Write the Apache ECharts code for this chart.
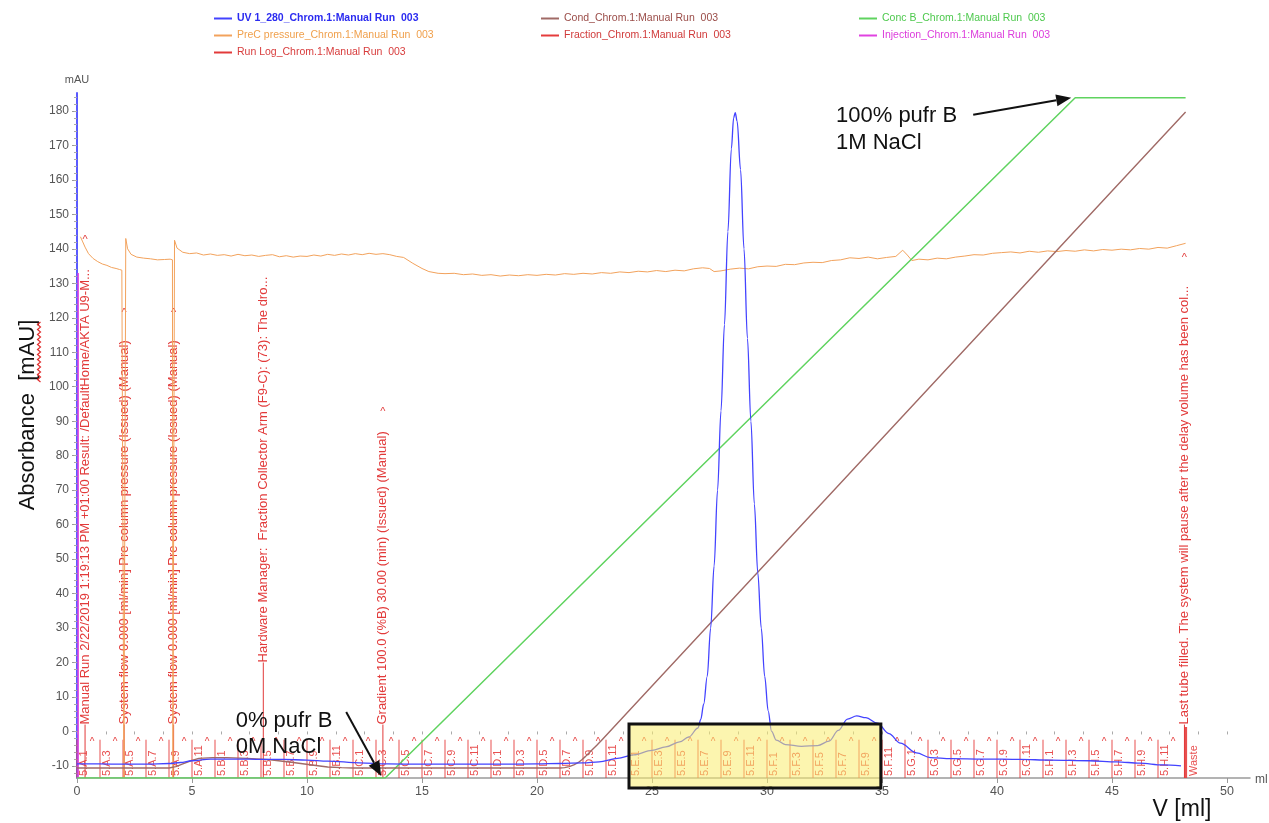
<!DOCTYPE html>
<html>
<head>
<meta charset="utf-8">
<title>Manual Run 003 – chromatogram</title>
<script src="https://cdn.jsdelivr.net/npm/echarts@6/dist/echarts.min.js"></script>
<style>
  html, body { margin: 0; padding: 0; background: #ffffff; }
  #chart { width: 1269px; height: 823px; }
</style>
</head>
<body>
<div id="chart"></div>
<script>
// ---------------- data ----------------
// UV 280 nm absorbance (mAU) against eluted volume (ml)
const uvVolume = [0,1,2,3,4,4.5,5,5.8,7,8,9,10,10.9,12.3,13.5,15,18,20,21,22,22.7,23.5,24.2,25,25.6,26.2,26.6,27,27.12,27.25,27.4,27.55,27.7,27.85,28,28.15,28.3,28.45,28.55,28.62,28.7,28.85,29,29.15,29.3,29.45,29.6,29.75,29.9,30.05,30.2,30.4,30.8,31.5,32.2,32.7,33.1,33.5,33.9,34.3,34.8,35.3,35.8,36.5,37.1,38,39.4,41,42.3,44,45.2,46.2,47.2,48];
const uvAbsorbance = [-9.4,-9.4,-9.5,-9.5,-9.3,-9,-8.5,-8,-8,-8.1,-8.1,-8.3,-8.6,-9.1,-9.4,-9.5,-9.5,-9.4,-9.3,-9.1,-8.8,-7.8,-6.8,-5.5,-4.5,-3,-1.6,1,3.5,8,16,30,48,70,93,118,145,169,178,179.5,177,163,140,114,90,66,46,30,16,6,0,-2.5,-3.8,-4.3,-4.1,-2.8,0.3,3.6,4.5,4,2.4,-0.6,-3.4,-6.2,-7.6,-7.9,-8,-8.1,-8.3,-8.5,-8.8,-9.2,-9.7,-10];

// Conductivity trace, drawn on the absorbance scale
const condVolume = [0,4,4.3,4.6,4.95,5.3,5.9,6.5,7.4,8.4,9.4,10.3,10.9,11.5,12,21,21.2,21.4,21.6,21.8,21.95,22.1,22.25,22.4,22.6,22.8,25,30,35,40,45,48.2];
const condValue = [-10.6,-10.6,-10.2,-9.4,-8.5,-7.8,-7.6,-7.6,-7.8,-8.2,-9,-9.8,-10.3,-10.5,-10.6,-10.6,-10.5,-10.2,-9.7,-9,-8.2,-7.3,-6.3,-5.3,-4,-2.6,13.2,49.1,85,120.9,156.8,179.7];

// Buffer B concentration (%)
const concVolume = [0, 13.4, 43.4, 48.2];
const concPercent = [0, 0, 100, 100];

// Pre-column pressure trace, drawn on the absorbance scale
const presVolume = [0.15,0.25,0.35,0.5,0.7,0.9,1.1,1.3,1.5,1.7,1.85,1.95,2.02,2.04,2.1,2.12,2.2,2.35,2.6,2.9,3.2,3.5,3.8,4.05,4.15,4.17,4.22,4.24,4.35,4.6,4.9,5.2,5.5,5.8,6.1,6.4,6.7,7.0,7.3,7.6,7.9,8.2,8.5,8.8,9.1,9.4,9.7,10.0,10.3,10.6,10.9,11.2,11.5,11.8,12.1,12.4,12.7,13.0,13.3,13.6,13.9,14.2,14.6,15.0,15.3,15.7,16.0,16.4,16.8,17.2,17.6,18.0,18.4,18.8,19.2,19.6,20.0,20.4,20.8,21.2,21.6,22.0,22.4,22.8,23.2,23.6,24.0,24.4,24.8,25.2,25.6,26.0,26.4,26.8,27.2,27.5,27.7,28.0,28.4,28.8,29.2,29.6,30.0,30.4,30.8,31.2,31.6,32.0,32.4,32.8,33.2,33.6,34.0,34.4,34.8,35.2,35.6,35.9,36.1,36.3,36.6,37.0,37.4,37.8,38.2,38.6,39.0,39.4,39.8,40.2,40.6,41.0,41.4,41.8,42.2,42.6,43.0,43.4,43.8,44.2,44.6,45.0,45.4,45.8,46.2,46.6,47.0,47.4,47.8,48.2];
const presValue = [143.5,142,140.5,138.6,137.2,136.3,135.6,135.2,134.6,134.3,134.0,133.8,133.5,-13.5,-13.5,143,140,138.4,137.6,137.3,137.1,136.8,136.9,137.0,136.8,-13.5,-13.5,142.5,140.2,139,138.6,138.8,138.2,138.5,138.1,138.3,137.9,138.4,138.0,138.2,137.8,138.1,138.3,137.7,138.0,137.6,137.9,137.8,138.2,137.9,138.4,138.1,138.5,138.2,138.6,138.3,138.7,138.4,138.6,138.3,137.8,137.5,135.8,134.3,133.4,132.9,132.8,132.9,132.5,132.7,132.3,132.5,132.1,132.4,132.2,132.5,132.3,132.6,132.4,132.8,132.6,132.9,132.7,133.1,132.9,133.3,133.1,133.5,133.3,133.7,133.4,133.8,133.6,134.2,134.5,134.3,133.4,133.6,134.1,134.4,134.2,134.8,135.0,134.9,135.5,135.4,135.9,136.1,136.0,136.6,136.8,137.4,137.2,137.6,137.1,137.5,137.8,139.6,138.2,136.6,137.0,136.8,137.3,137.1,137.6,137.9,138.3,138.2,138.7,138.9,139.1,138.8,139.3,139.0,139.4,139.2,139.5,139.3,139.7,139.4,139.8,139.6,139.9,139.7,140.1,139.9,140.4,140.2,140.9,141.6];

// Fraction collector: start volume of each tube and its well name
const fractionVolume = [0,1,2,3,4,5,6,7,8,9,10,11,12,13,14,15,16,17,18,19,20,21,22,23,24,25,26,27,28,29,30,31,32,33,34,35,36,37,38,39,40,41,42,43,44,45,46,47,48.2];
const fractionLabel = ['5.A.1','5.A.3','5.A.5','5.A.7','5.A.9','5.A.11','5.B.1','5.B.3','5.B.5','5.B.7','5.B.9','5.B.11','5.C.1','5.C.3','5.C.5','5.C.7','5.C.9','5.C.11','5.D.1','5.D.3','5.D.5','5.D.7','5.D.9','5.D.11','5.E.1','5.E.3','5.E.5','5.E.7','5.E.9','5.E.11','5.F.1','5.F.3','5.F.5','5.F.7','5.F.9','5.F.11','5.G.1','5.G.3','5.G.5','5.G.7','5.G.9','5.G.11','5.H.1','5.H.3','5.H.5','5.H.7','5.H.9','5.H.11','Waste'];

// Run log events
const runLogVolume = [0.35, 2.05, 4.2, 8.1, 13.3, 48.15];
const runLogText = [
  'Manual Run 2/22/2019 1:19:13 PM +01:00 Result: /DefaultHome/AKTA U9-M...',
  'System flow 0.000 [ml/min] Pre column pressure (Issued) (Manual)',
  'System flow 0.000 [ml/min] Pre column pressure (Issued) (Manual)',
  'Hardware Manager:  Fraction Collector Arm (F9-C): (73): The dro...',
  'Gradient 100.0 (%B) 30.00 (min) (Issued) (Manual)',
  'Last tube filled. The system will pause after the delay volume has been col...'
];

// Injection mark
const injectionVolume = [0.05];

// Axis tick labels
const xTickLabels = [0, 5, 10, 15, 20, 25, 30, 35, 40, 45, 50];
const yTickLabels = [-10, 0, 10, 20, 30, 40, 50, 60, 70, 80, 90, 100, 110, 120, 130, 140, 150, 160, 170, 180];

// ---------------- presentation ----------------
const FONT = '"Liberation Sans", Arial, Helvetica, sans-serif';
const Y_MIN = -13.5, Y_MAX = 185.2, X_MIN = 0, X_MAX = 51;
const CONC_MAX = 100.7;

const COLORS = {
  uv: '#4343ff', cond: '#a06a66', conc: '#5fd35f', pres: '#f2a25c',
  fraction: '#e53c3c', runlog: '#e23a3a', injection: '#e043e0'
};

const NAMES = {
  uv: 'UV 1_280_Chrom.1:Manual Run  003',
  cond: 'Cond_Chrom.1:Manual Run  003',
  conc: 'Conc B_Chrom.1:Manual Run  003',
  pres: 'PreC pressure_Chrom.1:Manual Run  003',
  fraction: 'Fraction_Chrom.1:Manual Run  003',
  injection: 'Injection_Chrom.1:Manual Run  003',
  runlog: 'Run Log_Chrom.1:Manual Run  003'
};

// where each run-log text starts and where its caret sits (absorbance units)
const runLogTextFrom = [2, 2, 2, 20, 2, 2];
const runLogCaretAt = [142.6, 121.4, 121.4, null, 92.7, 137.4];

const zip = (xs, ys) => xs.map((x, i) => [x, ys[i]]);

function ticksBetween(lo, hi, step) {
  const out = [];
  for (let v = lo; v <= hi + 1e-9; v += step) out.push(+v.toFixed(4));
  return out;
}

function renderFraction(params, api) {
  const i = params.dataIndex;
  const x = api.value(0);
  const label = fractionLabel[i];
  const waste = label === 'Waste';
  const base = api.coord([x, Y_MIN]);
  const top = api.coord([x, waste ? 1.3 : -2.4]);
  const children = [
    { type: 'line', shape: { x1: base[0], y1: base[1], x2: top[0], y2: top[1] },
      style: { stroke: COLORS.fraction, lineWidth: waste ? 3 : 1, opacity: 0.9 } },
    { type: 'text', x: base[0] + (waste ? 8 : 7), y: base[1] - 2, rotation: Math.PI / 2,
      style: { text: label, fill: COLORS.fraction, fontSize: 11, fontFamily: FONT,
               align: 'left', verticalAlign: 'middle', opacity: 0.9 } }
  ];
  if (!waste) {
    children.push({ type: 'text', x: top[0] + 15, y: top[1] + 3,
      style: { text: '^', fill: COLORS.fraction, fontSize: 10, fontFamily: FONT,
               align: 'center', verticalAlign: 'middle' } });
  }
  return { type: 'group', children };
}

function renderRunLog(params, api) {
  const i = params.dataIndex;
  const x = api.value(0);
  const base = api.coord([x, Y_MIN]);
  const from = api.coord([x, runLogTextFrom[i]]);
  const children = [
    { type: 'line', shape: { x1: base[0], y1: base[1], x2: from[0], y2: from[1] },
      style: { stroke: COLORS.runlog, lineWidth: 1 } },
    { type: 'text', x: from[0], y: from[1], rotation: Math.PI / 2,
      style: { text: runLogText[i], fill: COLORS.runlog, fontSize: 13, fontFamily: FONT,
               align: 'left', verticalAlign: 'middle' } }
  ];
  if (runLogCaretAt[i] !== null) {
    const c = api.coord([x, runLogCaretAt[i]]);
    children.push({ type: 'text', x: c[0], y: c[1],
      style: { text: '^', fill: COLORS.runlog, fontSize: 11, fontFamily: FONT,
               align: 'center', verticalAlign: 'middle' } });
  }
  return { type: 'group', children };
}

function renderInjection(params, api) {
  const x = api.value(0);
  const a = api.coord([x, Y_MIN]);
  const b = api.coord([x, 133]);
  return { type: 'line', shape: { x1: a[0], y1: a[1], x2: b[0], y2: b[1] },
           style: { stroke: COLORS.injection, lineWidth: 1.5 } };
}

const legendText = (name, color, bold) => ({ name, textStyle: { color, fontWeight: bold ? 'bold' : 'normal' } });
const legendBase = {
  orient: 'vertical', top: 13, itemGap: 6, itemWidth: 18, itemHeight: 2, icon: 'rect',
  selectedMode: false, padding: 0,
  textStyle: { fontSize: 10.5, fontFamily: FONT }
};

const chart = echarts.init(document.getElementById('chart'), null, { renderer: 'canvas' });

const axisLabelStyle = { color: '#555', fontSize: 12, fontFamily: FONT };

chart.setOption({
  animation: false,
  backgroundColor: '#ffffff',
  grid: { left: 77, right: 19, top: 93, bottom: 45, containLabel: false, outerBoundsMode: 'none' },
  legend: [
    Object.assign({}, legendBase, { left: 214, data: [
      legendText(NAMES.uv, '#2b2bf0', true),
      legendText(NAMES.pres, '#f0a04c'),
      legendText(NAMES.runlog, '#d83c3c') ] }),
    Object.assign({}, legendBase, { left: 541, data: [
      legendText(NAMES.cond, '#9a4c48'),
      legendText(NAMES.fraction, '#d03a3a') ] }),
    Object.assign({}, legendBase, { left: 859, data: [
      legendText(NAMES.conc, '#4ec94e'),
      legendText(NAMES.injection, '#dc3cdc') ] })
  ],
  xAxis: [
    {
      type: 'value', min: X_MIN, max: X_MAX,
      name: 'ml', nameLocation: 'end', nameGap: 5,
      nameTextStyle: { color: '#555', fontSize: 12, fontFamily: FONT, verticalAlign: 'top', padding: [-4, 0, 0, 0] },
      axisLine: { show: true, onZero: false, lineStyle: { color: '#9a9a9a', width: 1.5 } },
      axisTick: { show: true, length: 5, customValues: xTickLabels, lineStyle: { color: '#999' } },
      axisLabel: { customValues: xTickLabels, margin: 7, ...axisLabelStyle, fontSize: 12.5 },
      splitLine: { show: false }
    },
    {
      type: 'value', min: X_MIN, max: X_MAX, position: 'bottom',
      axisLine: { show: false }, axisLabel: { show: false }, splitLine: { show: false },
      axisTick: { show: true, length: 3, customValues: ticksBetween(0, 50, 1.25), lineStyle: { color: '#aaa' } }
    }
  ],
  yAxis: [
    {
      type: 'value', min: Y_MIN, max: Y_MAX,
      name: 'mAU', nameLocation: 'end', nameGap: 8,
      nameTextStyle: { color: '#555', fontSize: 11, fontFamily: FONT, align: 'center' },
      axisLine: { show: true, onZero: false, lineStyle: { color: '#5a5aff', width: 2 } },
      axisTick: { show: true, length: 5, customValues: yTickLabels, lineStyle: { color: '#999' } },
      axisLabel: { customValues: yTickLabels, margin: 8, ...axisLabelStyle },
      splitLine: { show: false }
    },
    {
      type: 'value', min: Y_MIN, max: Y_MAX, position: 'left',
      axisLine: { show: false }, axisLabel: { show: false }, splitLine: { show: false },
      axisTick: { show: true, length: 3, customValues: ticksBetween(-12, 184, 2), lineStyle: { color: '#aaa' } }
    },
    {
      type: 'value', min: 0, max: CONC_MAX, show: false
    }
  ],
  series: [
    {
      name: NAMES.fraction, type: 'custom', xAxisIndex: 0, yAxisIndex: 0, z: 1, silent: true,
      itemStyle: { color: COLORS.fraction },
      data: fractionVolume.map(v => [v, 0]), encode: { x: 0, y: 1 },
      renderItem: renderFraction
    },
    {
      name: NAMES.runlog, type: 'custom', xAxisIndex: 0, yAxisIndex: 0, z: 1, silent: true,
      itemStyle: { color: COLORS.runlog },
      data: runLogVolume.map(v => [v, 0]), encode: { x: 0, y: 1 },
      renderItem: renderRunLog
    },
    {
      name: NAMES.injection, type: 'custom', xAxisIndex: 0, yAxisIndex: 0, z: 2, silent: true,
      itemStyle: { color: COLORS.injection },
      data: injectionVolume.map(v => [v, 0]), encode: { x: 0, y: 1 },
      renderItem: renderInjection
    },
    {
      name: NAMES.pres, type: 'line', xAxisIndex: 0, yAxisIndex: 0, z: 3, silent: true,
      data: zip(presVolume, presValue), showSymbol: false,
      lineStyle: { color: COLORS.pres, width: 1 }, itemStyle: { color: COLORS.pres }
    },
    {
      name: NAMES.conc, type: 'line', xAxisIndex: 0, yAxisIndex: 2, z: 4, silent: true,
      data: zip(concVolume, concPercent), showSymbol: false,
      lineStyle: { color: COLORS.conc, width: 1.5 }, itemStyle: { color: COLORS.conc }
    },
    {
      name: NAMES.cond, type: 'line', xAxisIndex: 0, yAxisIndex: 0, z: 4, silent: true,
      data: zip(condVolume, condValue), showSymbol: false,
      lineStyle: { color: COLORS.cond, width: 1.4 }, itemStyle: { color: COLORS.cond }
    },
    {
      name: NAMES.uv, type: 'line', xAxisIndex: 0, yAxisIndex: 0, z: 5, silent: true,
      data: zip(uvVolume, uvAbsorbance), showSymbol: false, smooth: 0.35, smoothMonotone: 'x',
      lineStyle: { color: COLORS.uv, width: 1.3 }, itemStyle: { color: COLORS.uv }
    }
  ]
});

// ---------------- annotations ----------------
const toPx = (x, y) => chart.convertToPixel({ xAxisIndex: 0, yAxisIndex: 0 }, [x, y]);
const toPxConc = (x, p) => chart.convertToPixel({ seriesIndex: 4 }, [x, p]);

function arrow(tail, tip, head, halfWidth) {
  const dx = tip[0] - tail[0], dy = tip[1] - tail[1];
  const len = Math.hypot(dx, dy), ux = dx / len, uy = dy / len;
  const bx = tip[0] - ux * head, by = tip[1] - uy * head;
  return [
    { type: 'line', z: 120, shape: { x1: tail[0], y1: tail[1], x2: bx, y2: by },
      style: { stroke: '#111', lineWidth: 2 } },
    { type: 'polygon', z: 120, shape: { points: [
        [tip[0], tip[1]],
        [bx - uy * halfWidth, by + ux * halfWidth],
        [bx + uy * halfWidth, by - ux * halfWidth] ] },
      style: { fill: '#111' } }
  ];
}

const gradStart = toPxConc(13.4, 0);
const gradEnd = toPxConc(43.4, 100);
const lowTip = [gradStart[0] - 4, gradStart[1] - 2];
const highTip = [gradEnd[0] - 4, gradEnd[1]];

const boxTopLeft = toPx(24.0, 2.2);
const boxRight = toPx(34.95, 0)[0];
const boxBottom = toPx(0, Y_MIN)[1] + 10;

const lowText = toPx(6.9, 6.9);
const highText = toPx(33.0, 182.6);

// wavy spell-check underline beside the axis title
const wave = [];
for (let y = 322; y <= 382; y += 2.5) wave.push([(Math.round((y - 322) / 2.5) % 2) ? 37.5 : 40.5, y]);

chart.setOption({
  graphic: [
    { type: 'rect', z: 110,
      shape: { x: boxTopLeft[0], y: boxTopLeft[1], width: boxRight - boxTopLeft[0], height: boxBottom - boxTopLeft[1] },
      style: { fill: 'rgba(250, 236, 110, 0.55)', stroke: '#111', lineWidth: 3 } },
    ...arrow([lowTip[0] - 35, lowTip[1] - 64], lowTip, 15, 6),
    ...arrow([highTip[0] - 98, highTip[1] + 17], highTip, 15, 6),
    { type: 'text', z: 120, x: lowText[0], y: lowText[1],
      style: { text: '0% pufr B\n0M NaCl', fill: '#111', fontSize: 22, fontFamily: FONT, lineHeight: 26,
               align: 'left', verticalAlign: 'top' } },
    { type: 'text', z: 120, x: highText[0], y: highText[1],
      style: { text: '100% pufr B\n1M NaCl', fill: '#111', fontSize: 22, fontFamily: FONT, lineHeight: 27,
               align: 'left', verticalAlign: 'top' } },
    { type: 'text', z: 120, x: 28, y: 415, rotation: Math.PI / 2,
      style: { text: 'Absorbance  [mAU]', fill: '#111', fontSize: 22, fontFamily: FONT,
               align: 'center', verticalAlign: 'middle' } },
    { type: 'polyline', z: 120, shape: { points: wave }, style: { stroke: '#e03030', lineWidth: 1.2, fill: null } },
    { type: 'text', z: 120, x: 1182, y: 810,
      style: { text: 'V [ml]', fill: '#111', fontSize: 23, fontFamily: FONT,
               align: 'center', verticalAlign: 'middle' } }
  ]
});
</script>
</body>
</html>
